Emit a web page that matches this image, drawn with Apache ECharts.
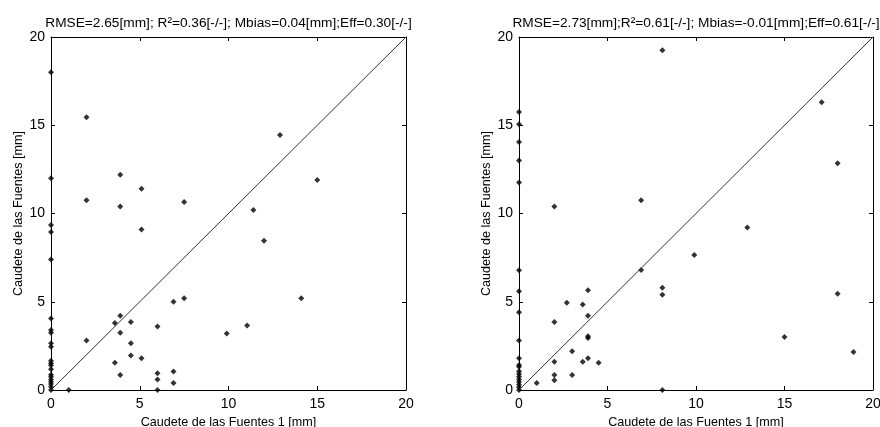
<!DOCTYPE html>
<html><head><meta charset="utf-8">
<script src="https://cdn.jsdelivr.net/npm/echarts@6/dist/echarts.min.js"></script>
<style>html,body{margin:0;padding:0;background:#fff}#c{width:880px;height:427px}</style>
</head><body><div id="c"></div>
<script>
const titles = [
  "RMSE=2.65[mm]; R\u00b2=0.36[-/-]; Mbias=0.04[mm];Eff=0.30[-/-]",
  "RMSE=2.73[mm];R\u00b2=0.61[-/-]; Mbias=-0.01[mm];Eff=0.61[-/-]"
];
const xName = "Caudete de las Fuentes 1 [mm]";
const yName = "Caudete de las Fuentes [mm]";
const axisMin = 0, axisMax = 20, axisStep = 5;
const diag = [[0,0],[20,20]];

const leftX = [0,2,0,2,3.9,3.9,5.1,7.5,12.9,15,11.4,
  0,0,0,5.1,12,0,0,0,0,0,0,0,0,0,0,0,0,0,0,0,0,
  1,2,3.6,3.9,4.5,3.9,6.9,7.5,14.1,6,11.05,9.9,4.5,4.5,5.1,3.6,3.9,6,6.9,6,6.9,6];
const leftY = [18,15.45,12,10.75,12.2,10.4,11.4,10.65,14.45,11.9,10.2,
  9.35,8.95,7.4,9.1,8.45,4.05,3.4,3.25,2.65,2.45,1.66,1.51,1.4,1.17,0.87,0.75,0.6,0.47,0.34,0.19,0,
  0,2.8,3.8,4.2,3.85,3.25,5.0,5.2,5.2,3.6,3.65,3.2,2.65,1.95,1.8,1.55,0.85,0.95,1.05,0.6,0.4,0];

const rightX = [0,0,0,0,0,2,6.9,8.1,17.1,18,
  12.9,9.9,6.9,8.1,8.1,18,15,18.9,
  0,0,0,0,0,0,0,0,0,0,0,0,0,0,0,
  2.7,3.6,3.9,3.9,3.9,3.9,2,3,2,3.6,3.9,4.5,2,2,3,1,8.1];
const rightY = [15.75,15.05,14.05,13,11.75,10.4,10.75,19.25,16.3,12.85,
  9.2,7.65,6.8,5.8,5.4,5.45,3.0,2.15,
  6.78,5.6,4.4,2.8,1.8,1.42,1.32,1.06,0.91,0.75,0.6,0.45,0.3,0.15,0,
  4.95,4.85,5.65,4.2,3.05,2.95,3.85,2.2,1.6,1.6,1.8,1.55,0.85,0.55,0.85,0.4,0];

const pts = (xs, ys) => xs.map((v, i) => [v, ys[i]]);

const FONT = 'Liberation Sans';
const grids = [
  {left: 51, top: 37, width: 355, height: 353, outerBoundsMode: 'none', containLabel: false},
  {left: 519, top: 37, width: 354, height: 353, outerBoundsMode: 'none', containLabel: false}
];
const lineStyle = {color: '#000', width: 1};
const xAxes = [], yAxes = [], series = [];
grids.forEach((g, gi) => {
  const base = {min: axisMin, max: axisMax, interval: axisStep, gridIndex: gi, type: 'value',
    splitLine: {show: false},
    axisLine: {show: true, onZero: false, lineStyle},
    axisTick: {show: true, inside: true, length: 4, lineStyle}};
  xAxes.push(Object.assign({}, base, {position: 'bottom',
    axisLabel: {show: true, color: '#000', fontFamily: FONT, fontSize: 14, margin: 7},
    name: xName, nameLocation: 'middle', nameGap: 24,
    nameTextStyle: {color: '#000', fontFamily: FONT, fontSize: 12.6}}));
  xAxes.push(Object.assign({}, base, {position: 'top',
    axisLabel: {show: false},
    name: titles[gi], nameLocation: 'middle', nameGap: 7,
    nameTextStyle: {color: '#000', fontFamily: FONT, fontSize: 13.7}}));
  yAxes.push(Object.assign({}, base, {position: 'left',
    axisLabel: {show: true, color: '#000', fontFamily: FONT, fontSize: 14, margin: 6},
    name: yName, nameLocation: 'middle', nameGap: 26,
    nameTextStyle: {color: '#000', fontFamily: FONT, fontSize: 12.6}}));
  yAxes.push(Object.assign({}, base, {position: 'right', axisLabel: {show: false}}));
  series.push({type: 'line', xAxisIndex: gi*2, yAxisIndex: gi*2, data: diag,
    symbol: 'none', lineStyle: {color: '#333', width: 1}, silent: true, animation: false});
  series.push({type: 'scatter', xAxisIndex: gi*2, yAxisIndex: gi*2,
    data: gi === 0 ? pts(leftX, leftY) : pts(rightX, rightY),
    symbol: 'diamond', symbolSize: 6, itemStyle: {color: '#000'}, animation: false});
});

const chart = echarts.init(document.getElementById('c'));
chart.setOption({
  animation: false,
  backgroundColor: '#fff',
  grid: grids,
  xAxis: xAxes,
  yAxis: yAxes,
  series
});
</script>
</body></html>
